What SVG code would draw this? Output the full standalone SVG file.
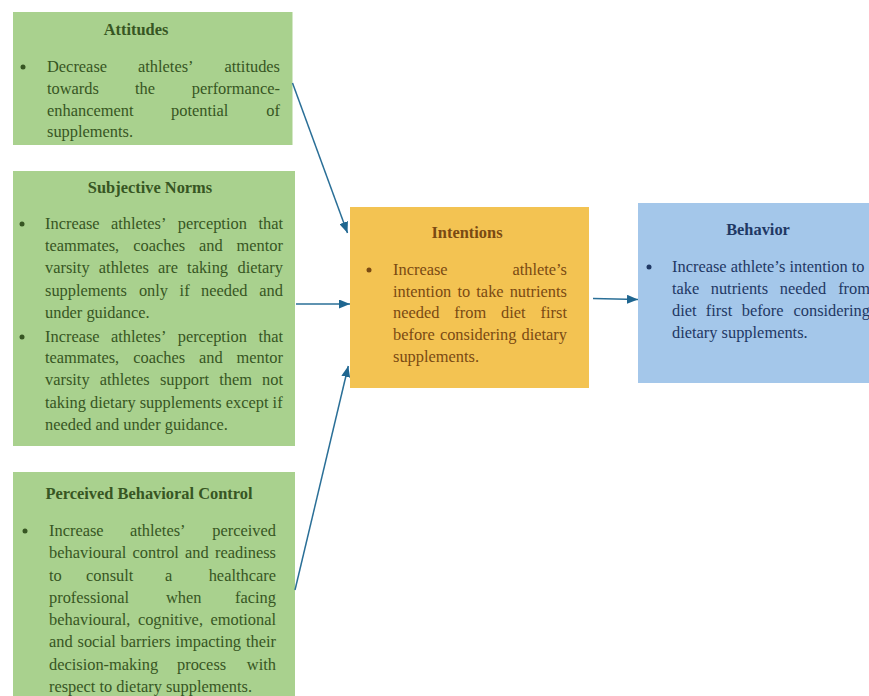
<svg xmlns="http://www.w3.org/2000/svg" width="869" height="696" viewBox="0 0 869 696">
<style>
text{font-family:"Liberation Serif","Times New Roman",serif;font-size:16.4px}
.ttl{font-weight:bold;text-anchor:middle}
.g{fill:#375623}
.o{fill:#7a4a12}
.b{fill:#1f3864}
.e{text-anchor:end}
.bg-g{fill:#a9d18e}
.bg-o{fill:#f3c352}
.bg-b{fill:#a4c7ea}
.conn{stroke:#2a6f97;stroke-width:1.5;fill:none;marker-end:url(#ah)}
</style>
<defs>
<marker id="ah" markerUnits="userSpaceOnUse" markerWidth="11" markerHeight="9" refX="11" refY="4.5" orient="auto">
<path d="M0,0 L11,4.5 L0,9 z" fill="#1f6690"/>
</marker>
</defs>
<rect width="869" height="696" fill="#ffffff"/>

<g id="attitudes">
<rect class="bg-g" x="13" y="12" width="279.5" height="133"/>
<text class="ttl g" x="136" y="35">Attitudes</text>
<circle class="g" cx="23" cy="67" r="2.5"/>
<text class="g" y="72"><tspan x="47">Decrease</tspan><tspan x="138">athletes’</tspan><tspan class="e" x="280">attitudes</tspan></text>
<text class="g" y="94"><tspan x="47">towards</tspan><tspan x="135">the</tspan><tspan class="e" x="280">performance-</tspan></text>
<text class="g" y="115.5"><tspan x="47">enhancement</tspan><tspan x="171">potential</tspan><tspan class="e" x="280">of</tspan></text>
<text class="g" x="47" y="137">supplements.</text>
</g>

<g id="subjective-norms">
<rect class="bg-g" x="13" y="171" width="282" height="275"/>
<text class="ttl g" x="150" y="193">Subjective Norms</text>
<circle class="g" cx="22" cy="224" r="2.5"/>
<text class="g" y="229"><tspan x="45">Increase</tspan><tspan x="110.9">athletes’</tspan><tspan x="177.7">perception</tspan><tspan class="e" x="283">that</tspan></text>
<text class="g" y="251"><tspan x="45">teammates,</tspan><tspan x="133.2">coaches</tspan><tspan x="199">and</tspan><tspan class="e" x="283">mentor</tspan></text>
<text class="g" y="273"><tspan x="45">varsity</tspan><tspan x="98.8">athletes</tspan><tspan x="158.1">are</tspan><tspan x="187.1">taking</tspan><tspan class="e" x="283">dietary</tspan></text>
<text class="g" y="296"><tspan x="45">supplements</tspan><tspan x="138.9">only</tspan><tspan x="179.6">if</tspan><tspan x="201.1">needed</tspan><tspan class="e" x="283">and</tspan></text>
<text class="g" x="45" y="318">under guidance.</text>
<circle class="g" cx="22" cy="337" r="2.5"/>
<text class="g" y="342"><tspan x="45">Increase</tspan><tspan x="110.9">athletes’</tspan><tspan x="177.7">perception</tspan><tspan class="e" x="283">that</tspan></text>
<text class="g" y="363"><tspan x="45">teammates,</tspan><tspan x="133.2">coaches</tspan><tspan x="199">and</tspan><tspan class="e" x="283">mentor</tspan></text>
<text class="g" y="385"><tspan x="45">varsity</tspan><tspan x="99.7">athletes</tspan><tspan x="159.9">support</tspan><tspan x="219.2">them</tspan><tspan class="e" x="283">not</tspan></text>
<text class="g" x="45" y="408">taking dietary supplements except if</text>
<text class="g" x="45" y="430">needed and under guidance.</text>
</g>

<g id="perceived-behavioral-control">
<rect class="bg-g" x="13" y="472" width="282" height="230"/>
<text class="ttl g" x="149" y="499">Perceived Behavioral Control</text>
<circle class="g" cx="25" cy="531" r="2.5"/>
<text class="g" y="536"><tspan x="49">Increase</tspan><tspan x="130">athletes’</tspan><tspan class="e" x="276">perceived</tspan></text>
<text class="g" y="558"><tspan x="49">behavioural</tspan><tspan x="132.5">control</tspan><tspan x="185.1">and</tspan><tspan class="e" x="276">readiness</tspan></text>
<text class="g" y="581"><tspan x="49">to</tspan><tspan x="86">consult</tspan><tspan x="165">a</tspan><tspan class="e" x="276">healthcare</tspan></text>
<text class="g" y="603"><tspan x="49">professional</tspan><tspan x="166">when</tspan><tspan class="e" x="276">facing</tspan></text>
<text class="g" y="625"><tspan x="49">behavioural,</tspan><tspan x="137.9">cognitive,</tspan><tspan class="e" x="276">emotional</tspan></text>
<text class="g" y="647"><tspan x="49">and</tspan><tspan x="77.5">social</tspan><tspan x="120.6">barriers</tspan><tspan x="175.5">impacting</tspan><tspan class="e" x="276">their</tspan></text>
<text class="g" y="670"><tspan x="49">decision-making</tspan><tspan x="177">process</tspan><tspan class="e" x="276">with</tspan></text>
<text class="g" x="49" y="692">respect to dietary supplements.</text>
</g>

<g id="intentions">
<rect class="bg-o" x="350" y="207" width="239" height="181"/>
<text class="ttl o" x="467" y="238">Intentions</text>
<circle class="o" cx="369" cy="270" r="2.5"/>
<text class="o" y="275"><tspan x="393">Increase</tspan><tspan class="e" x="567">athlete’s</tspan></text>
<text class="o" y="297"><tspan x="393">intention</tspan><tspan x="457.4">to</tspan><tspan x="476.3">take</tspan><tspan class="e" x="567">nutrients</tspan></text>
<text class="o" y="318"><tspan x="393">needed</tspan><tspan x="454.3">from</tspan><tspan x="501.1">diet</tspan><tspan class="e" x="567">first</tspan></text>
<text class="o" y="340"><tspan x="393">before</tspan><tspan x="439.9">considering</tspan><tspan class="e" x="567">dietary</tspan></text>
<text class="o" x="393" y="362">supplements.</text>
</g>

<g id="behavior">
<rect class="bg-b" x="638" y="203" width="240" height="180"/>
<text class="ttl b" x="758" y="235">Behavior</text>
<circle class="b" cx="649" cy="267" r="2.5"/>
<text class="b" x="672" y="272">Increase athlete’s intention to</text>
<text class="b" y="294"><tspan x="672">take</tspan><tspan x="710.7">nutrients</tspan><tspan x="779.8">needed</tspan><tspan class="e" x="870">from</tspan></text>
<text class="b" y="316"><tspan x="672">diet</tspan><tspan x="705.8">first</tspan><tspan x="741.7">before</tspan><tspan class="e" x="870">considering</tspan></text>
<text class="b" x="672" y="338">dietary supplements.</text>
</g>

<g id="connectors">
<line class="conn" x1="292.5" y1="83" x2="347.5" y2="233"/>
<line class="conn" x1="296" y1="304" x2="350" y2="304"/>
<line class="conn" x1="295" y1="590" x2="348.3" y2="366"/>
<line class="conn" x1="593" y1="298.5" x2="638" y2="299.5"/>
</g>
</svg>
